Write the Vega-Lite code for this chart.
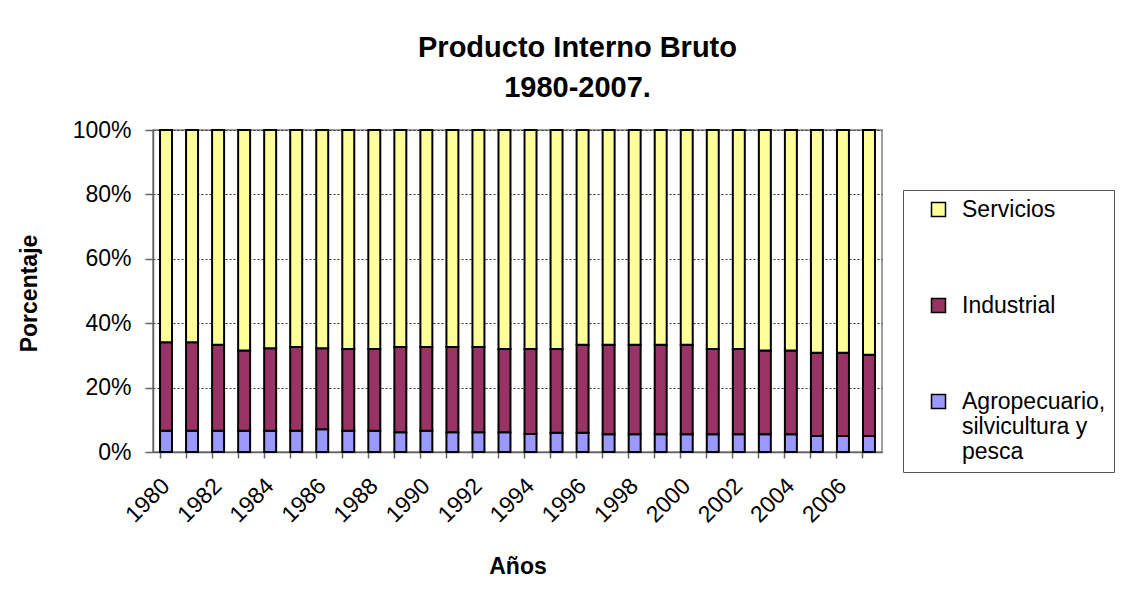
{
  "$schema": "https://vega.github.io/schema/vega-lite/v6.json",
  "autosize": {"type": "none"},
  "width": 729,
  "height": 322,
  "padding": {"left": 153, "top": 130, "right": 251, "bottom": 155},
  "background": "white",
  "title": {
    "text": ["Producto Interno Bruto", "1980-2007."],
    "font": "Liberation Sans",
    "fontSize": 29,
    "fontWeight": "bold",
    "color": "black",
    "lineHeight": 40,
    "anchor": "middle",
    "dx": 60,
    "offset": 16
  },
  "data": {
    "values": [
      {"year": 1980, "sector": "Agropecuario, silvicultura y pesca", "value": 6.6},
      {"year": 1980, "sector": "Industrial", "value": 27.5},
      {"year": 1980, "sector": "Servicios", "value": 65.9},
      {"year": 1981, "sector": "Agropecuario, silvicultura y pesca", "value": 6.6},
      {"year": 1981, "sector": "Industrial", "value": 27.5},
      {"year": 1981, "sector": "Servicios", "value": 65.9},
      {"year": 1982, "sector": "Agropecuario, silvicultura y pesca", "value": 6.6},
      {"year": 1982, "sector": "Industrial", "value": 26.7},
      {"year": 1982, "sector": "Servicios", "value": 66.7},
      {"year": 1983, "sector": "Agropecuario, silvicultura y pesca", "value": 6.6},
      {"year": 1983, "sector": "Industrial", "value": 24.9},
      {"year": 1983, "sector": "Servicios", "value": 68.5},
      {"year": 1984, "sector": "Agropecuario, silvicultura y pesca", "value": 6.6},
      {"year": 1984, "sector": "Industrial", "value": 25.6},
      {"year": 1984, "sector": "Servicios", "value": 67.8},
      {"year": 1985, "sector": "Agropecuario, silvicultura y pesca", "value": 6.6},
      {"year": 1985, "sector": "Industrial", "value": 26.0},
      {"year": 1985, "sector": "Servicios", "value": 67.4},
      {"year": 1986, "sector": "Agropecuario, silvicultura y pesca", "value": 7.1},
      {"year": 1986, "sector": "Industrial", "value": 25.1},
      {"year": 1986, "sector": "Servicios", "value": 67.8},
      {"year": 1987, "sector": "Agropecuario, silvicultura y pesca", "value": 6.6},
      {"year": 1987, "sector": "Industrial", "value": 25.4},
      {"year": 1987, "sector": "Servicios", "value": 68.0},
      {"year": 1988, "sector": "Agropecuario, silvicultura y pesca", "value": 6.6},
      {"year": 1988, "sector": "Industrial", "value": 25.4},
      {"year": 1988, "sector": "Servicios", "value": 68.0},
      {"year": 1989, "sector": "Agropecuario, silvicultura y pesca", "value": 6.1},
      {"year": 1989, "sector": "Industrial", "value": 26.5},
      {"year": 1989, "sector": "Servicios", "value": 67.4},
      {"year": 1990, "sector": "Agropecuario, silvicultura y pesca", "value": 6.6},
      {"year": 1990, "sector": "Industrial", "value": 26.0},
      {"year": 1990, "sector": "Servicios", "value": 67.4},
      {"year": 1991, "sector": "Agropecuario, silvicultura y pesca", "value": 6.1},
      {"year": 1991, "sector": "Industrial", "value": 26.5},
      {"year": 1991, "sector": "Servicios", "value": 67.4},
      {"year": 1992, "sector": "Agropecuario, silvicultura y pesca", "value": 6.1},
      {"year": 1992, "sector": "Industrial", "value": 26.5},
      {"year": 1992, "sector": "Servicios", "value": 67.4},
      {"year": 1993, "sector": "Agropecuario, silvicultura y pesca", "value": 6.1},
      {"year": 1993, "sector": "Industrial", "value": 25.9},
      {"year": 1993, "sector": "Servicios", "value": 68.0},
      {"year": 1994, "sector": "Agropecuario, silvicultura y pesca", "value": 5.6},
      {"year": 1994, "sector": "Industrial", "value": 26.4},
      {"year": 1994, "sector": "Servicios", "value": 68.0},
      {"year": 1995, "sector": "Agropecuario, silvicultura y pesca", "value": 6.0},
      {"year": 1995, "sector": "Industrial", "value": 26.0},
      {"year": 1995, "sector": "Servicios", "value": 68.0},
      {"year": 1996, "sector": "Agropecuario, silvicultura y pesca", "value": 6.0},
      {"year": 1996, "sector": "Industrial", "value": 27.3},
      {"year": 1996, "sector": "Servicios", "value": 66.7},
      {"year": 1997, "sector": "Agropecuario, silvicultura y pesca", "value": 5.5},
      {"year": 1997, "sector": "Industrial", "value": 27.8},
      {"year": 1997, "sector": "Servicios", "value": 66.7},
      {"year": 1998, "sector": "Agropecuario, silvicultura y pesca", "value": 5.5},
      {"year": 1998, "sector": "Industrial", "value": 27.8},
      {"year": 1998, "sector": "Servicios", "value": 66.7},
      {"year": 1999, "sector": "Agropecuario, silvicultura y pesca", "value": 5.5},
      {"year": 1999, "sector": "Industrial", "value": 27.8},
      {"year": 1999, "sector": "Servicios", "value": 66.7},
      {"year": 2000, "sector": "Agropecuario, silvicultura y pesca", "value": 5.5},
      {"year": 2000, "sector": "Industrial", "value": 27.8},
      {"year": 2000, "sector": "Servicios", "value": 66.7},
      {"year": 2001, "sector": "Agropecuario, silvicultura y pesca", "value": 5.5},
      {"year": 2001, "sector": "Industrial", "value": 26.5},
      {"year": 2001, "sector": "Servicios", "value": 68.0},
      {"year": 2002, "sector": "Agropecuario, silvicultura y pesca", "value": 5.5},
      {"year": 2002, "sector": "Industrial", "value": 26.5},
      {"year": 2002, "sector": "Servicios", "value": 68.0},
      {"year": 2003, "sector": "Agropecuario, silvicultura y pesca", "value": 5.5},
      {"year": 2003, "sector": "Industrial", "value": 26.0},
      {"year": 2003, "sector": "Servicios", "value": 68.5},
      {"year": 2004, "sector": "Agropecuario, silvicultura y pesca", "value": 5.5},
      {"year": 2004, "sector": "Industrial", "value": 26.0},
      {"year": 2004, "sector": "Servicios", "value": 68.5},
      {"year": 2005, "sector": "Agropecuario, silvicultura y pesca", "value": 5.0},
      {"year": 2005, "sector": "Industrial", "value": 25.8},
      {"year": 2005, "sector": "Servicios", "value": 69.2},
      {"year": 2006, "sector": "Agropecuario, silvicultura y pesca", "value": 5.0},
      {"year": 2006, "sector": "Industrial", "value": 25.8},
      {"year": 2006, "sector": "Servicios", "value": 69.2},
      {"year": 2007, "sector": "Agropecuario, silvicultura y pesca", "value": 5.0},
      {"year": 2007, "sector": "Industrial", "value": 25.2},
      {"year": 2007, "sector": "Servicios", "value": 69.8}
    ]
  },
  "mark": {"type": "bar", "stroke": "black", "strokeWidth": 2},
  "encoding": {
    "x": {
      "field": "year",
      "type": "ordinal",
      "scale": {"paddingInner": 0.54, "paddingOuter": 0.27},
      "axis": {
        "title": "Años",
        "bandPosition": 0,
        "labelAngle": -45,
        "labelAlign": "right",
        "labelBaseline": "middle",
        "labelExpr": "datum.value % 2 == 0 ? datum.label : ''",
        "labelPadding": 24,
        "labelOverlap": false,
        "tickSize": 6,
        "titleY": 121,
        "titleBaseline": "alphabetic",
        "titleAnchor": "middle"
      }
    },
    "y": {
      "field": "value",
      "type": "quantitative",
      "stack": "normalize",
      "axis": {
        "title": "Porcentaje",
        "format": "%",
        "values": [0, 0.2, 0.4, 0.6, 0.8, 1],
        "grid": true,
        "gridDash": [2, 2],
        "gridColor": "#333333",
        "labelPadding": 14,
        "tickSize": 8,
        "titleX": -117,
        "titleY": 163,
        "titleAlign": "center",
        "titleBaseline": "alphabetic",
        "titleAngle": -90
      }
    },
    "order": {"field": "sector", "type": "nominal", "sort": "ascending"},
    "color": {
      "field": "sector",
      "type": "nominal",
      "scale": {
        "domain": ["Agropecuario, silvicultura y pesca", "Industrial", "Servicios"],
        "range": ["#9999FF", "#993366", "#FFFF99"]
      },
      "legend": {
        "title": " ",
        "titleOrient": "left",
        "titleFontSize": 10,
        "titlePadding": 16,
        "orient": "none",
        "legendX": 750,
        "legendY": 60,
        "values": ["Servicios", "Industrial", "Agropecuario, silvicultura y pesca"],
        "labelExpr": "datum.label == 'Agropecuario, silvicultura y pesca' ? ['Agropecuario,', 'silvicultura y', 'pesca'] : datum.label",
        "labelFont": "Liberation Sans",
        "labelFontSize": 23,
        "labelColor": "black",
        "labelLimit": 400,
        "labelOffset": 12,
        "labelBaseline": "middle",
        "symbolType": "square",
        "symbolSize": 196,
        "symbolStrokeColor": "black",
        "symbolStrokeWidth": 1.5,
        "symbolOpacity": 1,
        "rowPadding": 72,
        "padding": 8,
        "strokeColor": "#555555",
        "fillColor": "white"
      }
    }
  },
  "config": {
    "view": {"stroke": "#808080", "strokeWidth": 1.5},
    "axis": {
      "labelFont": "Liberation Sans",
      "labelFontSize": 23,
      "labelColor": "black",
      "titleFont": "Liberation Sans",
      "titleFontSize": 23,
      "titleFontWeight": "bold",
      "titleColor": "black",
      "domainColor": "#666666",
      "domainWidth": 1.5,
      "tickColor": "#666666",
      "tickWidth": 1.5
    },
    "axisX": {"grid": false}
  }
}
